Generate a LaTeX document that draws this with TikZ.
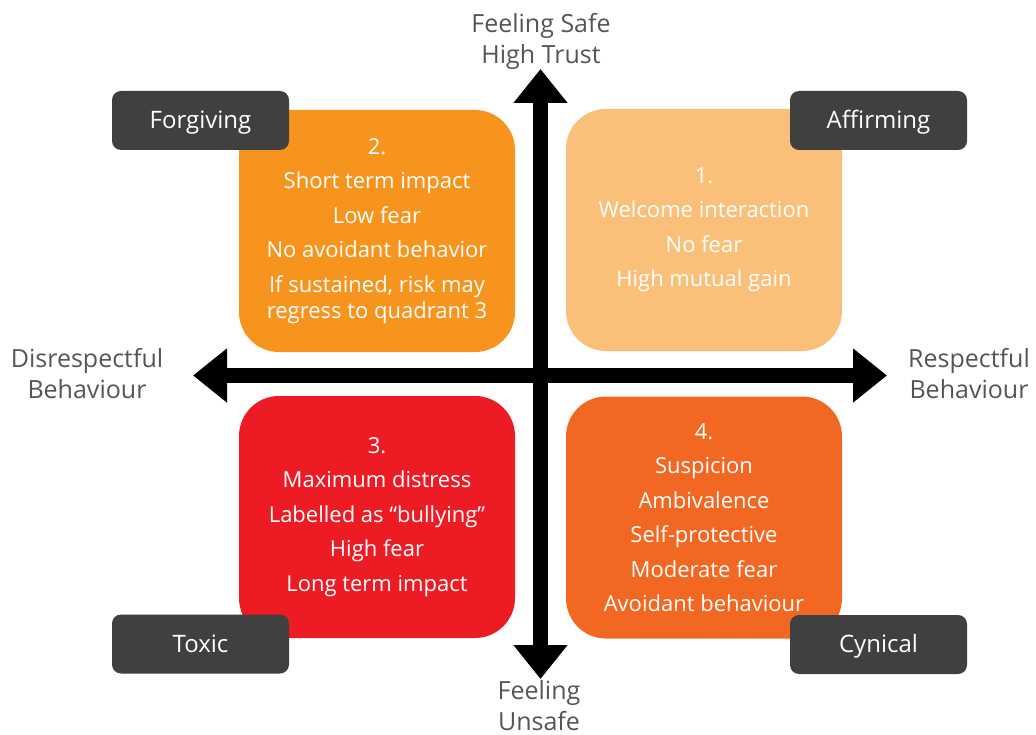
\documentclass[tikz,border=0pt]{standalone}
\usepackage{fontspec}
\setmainfont{Open Sans}
\usetikzlibrary{arrows.meta}

\definecolor{quadone}{HTML}{FABF78}
\definecolor{quadtwo}{HTML}{F7941D}
\definecolor{quadthree}{HTML}{ED1C24}
\definecolor{quadfour}{HTML}{F26722}
\definecolor{tagdark}{HTML}{404040}
\definecolor{axisgray}{HTML}{555555}

\newcommand{\gap}{\\[8.5pt]}

\begin{document}
\begin{tikzpicture}[x=1pt, y=-1pt,
    quad/.style={fill=#1, rounded corners=40pt, minimum width=276pt, minimum height=242pt,
      inner sep=0pt, text=white, align=center, font=\fontsize{22}{26}\selectfont},
    tag/.style={fill=tagdark, rounded corners=9pt, minimum width=177pt, minimum height=59pt,
      inner sep=0pt, text height=20pt, text depth=4pt, text=white, font=\fontsize{24}{28}\selectfont},
    axislabel/.style={inner sep=0pt, text=axisgray, align=center, font=\fontsize{25}{31}\selectfont},
    axis/.style={line width=15pt, {Triangle[width=52pt,length=34pt]}-{Triangle[width=52pt,length=34pt]}}]
    \useasboundingbox (0,0) rectangle (1036,735);

    % ---- quadrants ----
    \node[quad=quadtwo] (q2) at (377,231)
      {2.\gap Short term impact\gap Low fear\gap No avoidant behavior\gap
       If sustained, risk may\\regress to quadrant 3};
    \node[quad=quadone] (q1) at (704,230)
      {1.\gap Welcome interaction\gap No fear\gap High mutual gain};
    \node[quad=quadthree] (q3) at (377,517)
      {3.\gap Maximum distress\gap Labelled as “bullying”\gap High fear\gap Long term impact};
    \node[quad=quadfour] (q4) at (704,517.5)
      {4.\gap Suspicion\gap Ambivalence\gap Self-protective\gap Moderate fear\gap Avoidant behaviour};

    % ---- axes ----
    \coordinate (top) at (540.5,69);
    \coordinate (bottom) at (540.5,679);
    \coordinate (left) at (193,375.5);
    \coordinate (right) at (887,375.5);
    \draw[axis] (bottom) -- (top);
    \draw[axis] (left) -- (right);

    % ---- corner tags ----
    \node[tag] (forgiving) at (200.5,120.5) {Forgiving};
    \node[tag] (affirming) at (878.5,120.5) {Affirming};
    \node[tag] (toxic) at (200.5,644) {Toxic};
    \node[tag] (cynical) at (878.5,644.5) {Cynical};

    % ---- axis labels ----
    \node[axislabel] (safe) at (541,41) {Feeling Safe\\High Trust};
    \node[axislabel] (unsafe) at (539,705.5) {Feeling\\Unsafe};
    \node[axislabel] (disrespect) at (87,374) {Disrespectful\\Behaviour};
    \node[axislabel] (respect) at (969,374) {Respectful\\Behaviour};
\end{tikzpicture}
\end{document}
